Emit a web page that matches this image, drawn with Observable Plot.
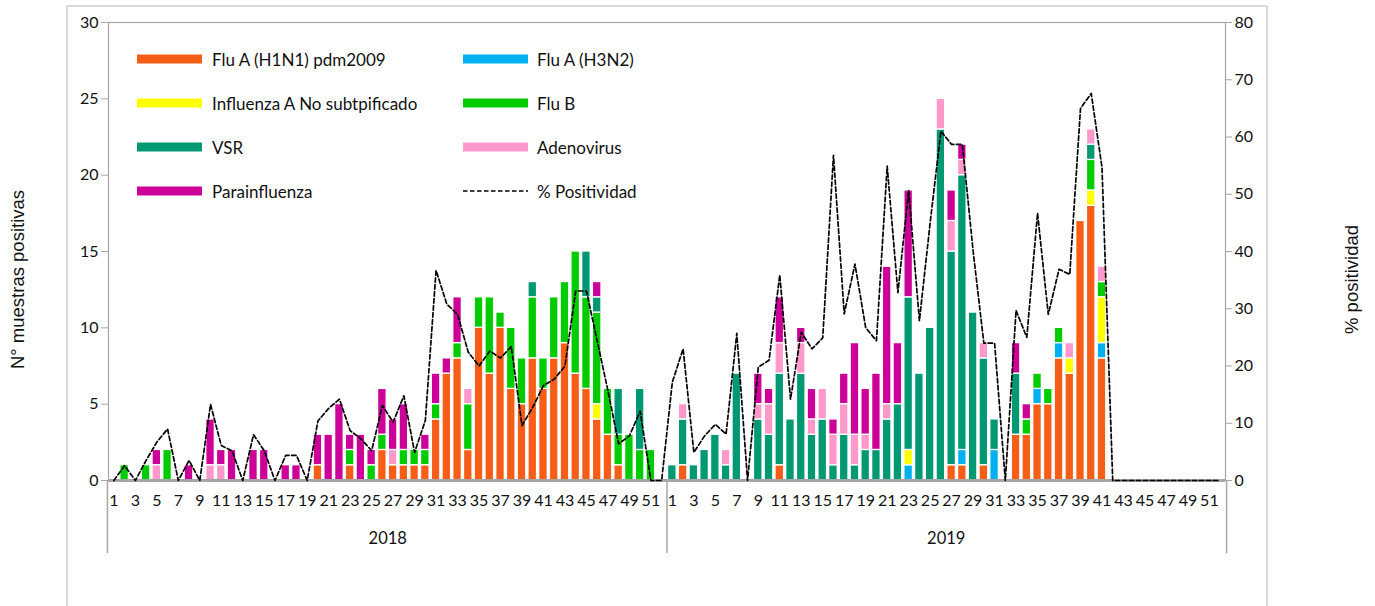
<!DOCTYPE html>
<html><head><meta charset="utf-8">
<script src="https://cdn.jsdelivr.net/npm/d3@7"></script>
<script src="https://cdn.jsdelivr.net/npm/@observablehq/plot@0.6"></script>
<style>
body{margin:0;background:#fff;overflow:hidden;font-family:Lato,"Open Sans",sans-serif;}
#wrap{position:relative;width:1375px;height:606px;}
#outer{position:absolute;left:66px;top:5px;width:1198px;height:700px;border:2px solid #d9d9d9;}
#chart{position:absolute;left:0;top:0;}
.leg{position:absolute;font-size:17px;color:#111;line-height:1;white-space:nowrap;transform:translateY(-50%);}
.sw{position:absolute;width:65px;height:9px;transform:translateY(-50%);}
</style></head><body>
<div id="wrap"><div id="outer"></div><div id="chart"></div></div>
<script>
// ---------- categories ----------
const years = [2018, 2019];
const weekNumbers = d3.range(1, 53);
const seriesNames = ["Flu A (H1N1) pdm2009", "Flu A (H3N2)", "Influenza A No subtpificado", "Flu B", "VSR", "Adenovirus", "Parainfluenza"];
const seriesColors = ["#F65E17", "#00B0F0", "#FFFF00", "#00CC00", "#009973", "#FF99CC", "#CC0099"];
const lineName = "% Positividad";
const leftTicks = [0, 5, 10, 15, 20, 25, 30];
const rightTicks = [0, 10, 20, 30, 40, 50, 60, 70, 80];

// ---------- 2018 weekly counts ----------
const h1n1_2018 = [0,0,0,0,0,0,0,0,0,0, 0,0,0,0,0,0,0,0,0,1, 0,0,1,0,0,2,1,1,1,1, 4,7,8,2,10,7,10,6,5,8, 6,8,9,7,6,4,3,1,0,0, 0,0];
const h3n2_2018 = [0,0,0,0,0,0,0,0,0,0, 0,0,0,0,0,0,0,0,0,0, 0,0,0,0,0,0,0,0,0,0, 0,0,0,0,0,0,0,0,0,0, 0,0,0,0,0,0,0,0,0,0, 0,0];
const noSub_2018 = [0,0,0,0,0,0,0,0,0,0, 0,0,0,0,0,0,0,0,0,0, 0,0,0,0,0,0,0,0,0,0, 0,0,0,0,0,0,0,0,0,0, 0,0,0,0,0,1,0,0,0,0, 0,0];
const fluB_2018 = [0,1,0,1,0,2,0,0,0,0, 0,0,0,0,0,0,0,0,0,0, 0,0,1,0,1,1,0,1,1,1, 1,0,1,3,2,5,1,4,3,4, 2,4,4,8,6,6,3,2,3,2, 2,0];
const vsr_2018 = [0,0,0,0,0,0,0,0,0,0, 0,0,0,0,0,0,0,0,0,0, 0,0,0,0,0,0,0,0,0,0, 0,0,0,0,0,0,0,0,0,1, 0,0,0,0,3,1,0,3,0,4, 0,0];
const adeno_2018 = [0,0,0,0,1,0,0,0,0,1, 1,0,0,0,0,0,0,0,0,0, 0,0,0,0,0,0,1,0,0,0, 0,0,0,1,0,0,0,0,0,0, 0,0,0,0,0,0,0,0,0,0, 0,0];
const para_2018 = [0,0,0,0,1,0,0,1,0,3, 1,2,0,2,2,0,1,1,0,2, 3,5,1,3,1,3,2,3,0,1, 2,1,3,0,0,0,0,0,0,0, 0,0,0,0,0,1,0,0,0,0, 0,0];
const pos_2018 = [0,2.6,0,3.5,6.7,9.0,0,3.5,0,13.3, 6.1,5.2,0,8.0,5.2,0,4.4,4.4,0,10.4, 12.6,14.2,8.7,7.3,5.2,13.1,10.2,14.8,4.9,10.5, 36.7,30.8,29.0,22.4,20.0,22.6,21.4,23.4,9.6,12.8, 16.6,17.7,20.0,33.1,33.1,24.4,15.7,6.4,7.8,12.1, 0,0];

// ---------- 2019 weekly counts ----------
const h1n1_2019 = [0,1,0,0,0,0,0,0,0,0, 1,0,0,0,0,0,0,0,0,0, 0,0,0,0,0,0,1,1,0,1, 0,0,3,3,5,5,8,7,17,18, 8,0,0,0,0,0,0,0,0,0, 0,0];
const h3n2_2019 = [0,0,0,0,0,0,0,0,0,0, 0,0,0,0,0,0,0,0,0,0, 0,0,1,0,0,0,0,1,0,0, 2,0,0,0,1,0,1,0,0,0, 1,0,0,0,0,0,0,0,0,0, 0,0];
const noSub_2019 = [0,0,0,0,0,0,0,0,0,0, 0,0,0,0,0,0,0,0,0,0, 0,0,1,0,0,0,0,0,0,0, 0,0,0,0,0,0,0,1,0,1, 3,0,0,0,0,0,0,0,0,0, 0,0];
const fluB_2019 = [0,0,0,0,0,0,0,0,0,0, 0,0,0,0,0,0,0,0,0,0, 0,0,0,0,0,0,0,0,0,0, 0,0,0,1,1,1,1,0,0,2, 1,0,0,0,0,0,0,0,0,0, 0,0];
const vsr_2019 = [1,3,1,2,3,1,7,0,4,3, 6,4,7,3,4,1,3,1,2,2, 4,5,10,7,10,23,14,18,11,7, 2,0,4,0,0,0,0,0,0,1, 0,0,0,0,0,0,0,0,0,0, 0,0];
const adeno_2019 = [0,1,0,0,0,1,0,0,1,2, 2,0,2,1,2,2,2,2,1,0, 1,0,0,0,0,2,2,1,0,1, 0,0,0,0,0,0,0,1,0,1, 1,0,0,0,0,0,0,0,0,0, 0,0];
const para_2019 = [0,0,0,0,0,0,0,0,2,1, 3,0,1,2,0,1,2,6,3,5, 9,4,7,0,0,0,2,1,0,0, 0,0,2,1,0,0,0,0,0,0, 0,0,0,0,0,0,0,0,0,0, 0,0];
const pos_2019 = [17.2,23.0,4.9,7.8,9.8,8.1,25.7,0,19.8,21.0, 35.9,14.2,25.9,23.0,24.9,56.8,29.1,37.8,26.7,24.4, 54.9,32.8,50.7,27.9,45.0,61.0,58.7,58.7,40.1,24.0, 24.0,0,29.7,25.0,46.7,29.0,36.9,36.0,65.0,67.6, 54.7,0,0,0,0,0,0,0,0,0, 0,0];

// ---------- tables built from the arrays ----------
const countsBySeries = [
  [h1n1_2018, h1n1_2019], [h3n2_2018, h3n2_2019], [noSub_2018, noSub_2019], [fluB_2018, fluB_2019],
  [vsr_2018, vsr_2019], [adeno_2018, adeno_2019], [para_2018, para_2019]
];
const positivity = [pos_2018, pos_2019];
const keyOf = (y, w) => `${y}-${String(w).padStart(2, "0")}`;
const keys = years.flatMap(y => weekNumbers.map(w => keyOf(y, w)));
const barRows = [];
seriesNames.forEach((s, si) => years.forEach((y, yi) => weekNumbers.forEach((w, wi) => {
  const v = countsBySeries[si][yi][wi];
  if (v > 0) barRows.push({key: keyOf(y, w), series: s, value: v});
})));
const lineRows = years.flatMap((y, yi) => weekNumbers.map((w, wi) => ({key: keyOf(y, w), pct: positivity[yi][wi]})));

// ---------- layout ----------
const W = 1375, H = 606, mL = 108, mR = 150, mT = 22, mB = 126;
const yMax = 30, pMax = 80;
const pInner = 0.2, pOuter = 0.1;
const step = (W - mL - mR) / (keys.length - pInner + 2 * pOuter);
const toY = p => p * yMax / pMax;
const axisGray = "#a6a6a6";
const weekOf = k => +k.slice(5);
const oddKeys = keys.filter(k => weekOf(k) % 2 === 1);
const titleFont = "'Liberation Sans', Arial, sans-serif";

const plot = Plot.plot({
  width: W, height: H,
  marginLeft: mL, marginRight: mR, marginTop: mT, marginBottom: mB,
  style: {fontFamily: "Lato, 'Open Sans', sans-serif", fontSize: "16px", color: "#111", background: "transparent", overflow: "visible"},
  x: {type: "band", domain: keys, paddingInner: pInner, paddingOuter: pOuter, axis: null},
  y: {domain: [0, yMax], axis: null},
  color: {domain: seriesNames, range: seriesColors},
  marks: [
    Plot.frame({stroke: axisGray, strokeWidth: 1.2}),
    Plot.barY(barRows, {x: "key", y: "value", fill: "series", order: seriesNames, stroke: "white", strokeWidth: 1.3}),
    Plot.ruleY([0], {stroke: axisGray, strokeWidth: 3}),
    Plot.line(lineRows, {x: "key", y: d => toY(d.pct), stroke: "black", strokeWidth: 1.7, strokeDasharray: "4.5,2.5"}),
    Plot.axisY({ticks: leftTicks, tickSize: 7, tickPadding: 3, stroke: axisGray, fontSize: 16, label: null}),
    Plot.axisY({anchor: "right", ticks: rightTicks.map(toY), tickFormat: v => Math.round(v * pMax / yMax), tickSize: 6, tickPadding: 3, stroke: axisGray, fontSize: 16, label: null}),
    Plot.axisX({ticks: oddKeys, tickFormat: weekOf, tickSize: 0, tickPadding: 14, fontSize: 16, label: null}),
    Plot.axisX({ticks: years.map(y => keyOf(y, 27)), tickFormat: k => k.slice(0, 4), tickSize: 0, tickPadding: 52, dx: -step / 2, fontSize: 16.5, label: null}),
    Plot.axisX({ticks: [keyOf(2019, 1)], tickFormat: () => "", tickSize: 73, dx: -step / 2, stroke: axisGray, strokeWidth: 1.5, label: null}),
    Plot.axisX({ticks: [keyOf(2018, 1)], tickFormat: () => "", tickSize: 73, dx: -step * (0.5 + pOuter), stroke: axisGray, strokeWidth: 1.5, label: null}),
    Plot.axisX({ticks: [keyOf(2019, 52)], tickFormat: () => "", tickSize: 73, dx: step * (0.5 + pOuter), stroke: axisGray, strokeWidth: 1.5, label: null}),
    Plot.text(["N° muestras positivas"], {text: d => d, frameAnchor: "left", textAnchor: "middle", rotate: -90, dx: -90, dy: 28, fontSize: 18.5, fontFamily: titleFont}),
    Plot.text(["% positividad"], {text: d => d, frameAnchor: "right", textAnchor: "middle", rotate: -90, dx: 127, dy: 28, fontSize: 18.5, fontFamily: titleFont})
  ]
});
document.getElementById("chart").appendChild(plot);

// ---------- legend (inside plot area, two columns) ----------
const wrap = document.getElementById("wrap");
const legendItems = [
  {name: seriesNames[0], col: 0, row: 0}, {name: seriesNames[1], col: 1, row: 0},
  {name: seriesNames[2], col: 0, row: 1}, {name: seriesNames[3], col: 1, row: 1},
  {name: seriesNames[4], col: 0, row: 2}, {name: seriesNames[5], col: 1, row: 2},
  {name: seriesNames[6], col: 0, row: 3}, {name: lineName, col: 1, row: 3}
];
const colSwatchX = [137, 463], colTextX = [212, 537], rowY = [59, 103, 147, 191];
legendItems.forEach(it => {
  const sx = colSwatchX[it.col], ty = rowY[it.row];
  if (it.name === lineName) {
    const s = document.createElementNS("http://www.w3.org/2000/svg", "svg");
    s.setAttribute("width", 65); s.setAttribute("height", 4);
    s.style.position = "absolute"; s.style.left = sx + "px"; s.style.top = (ty - 2) + "px";
    s.innerHTML = `<line x1="0" x2="65" y1="2" y2="2" stroke="black" stroke-width="1.7" stroke-dasharray="4.5,2.5"/>`;
    wrap.appendChild(s);
  } else {
    const sw = document.createElement("div");
    sw.className = "sw"; sw.style.left = sx + "px"; sw.style.top = ty + "px";
    sw.style.background = seriesColors[seriesNames.indexOf(it.name)];
    wrap.appendChild(sw);
  }
  const t = document.createElement("div");
  t.className = "leg"; t.textContent = it.name;
  t.style.left = colTextX[it.col] + "px"; t.style.top = ty + "px";
  wrap.appendChild(t);
});
</script>
</body></html>
